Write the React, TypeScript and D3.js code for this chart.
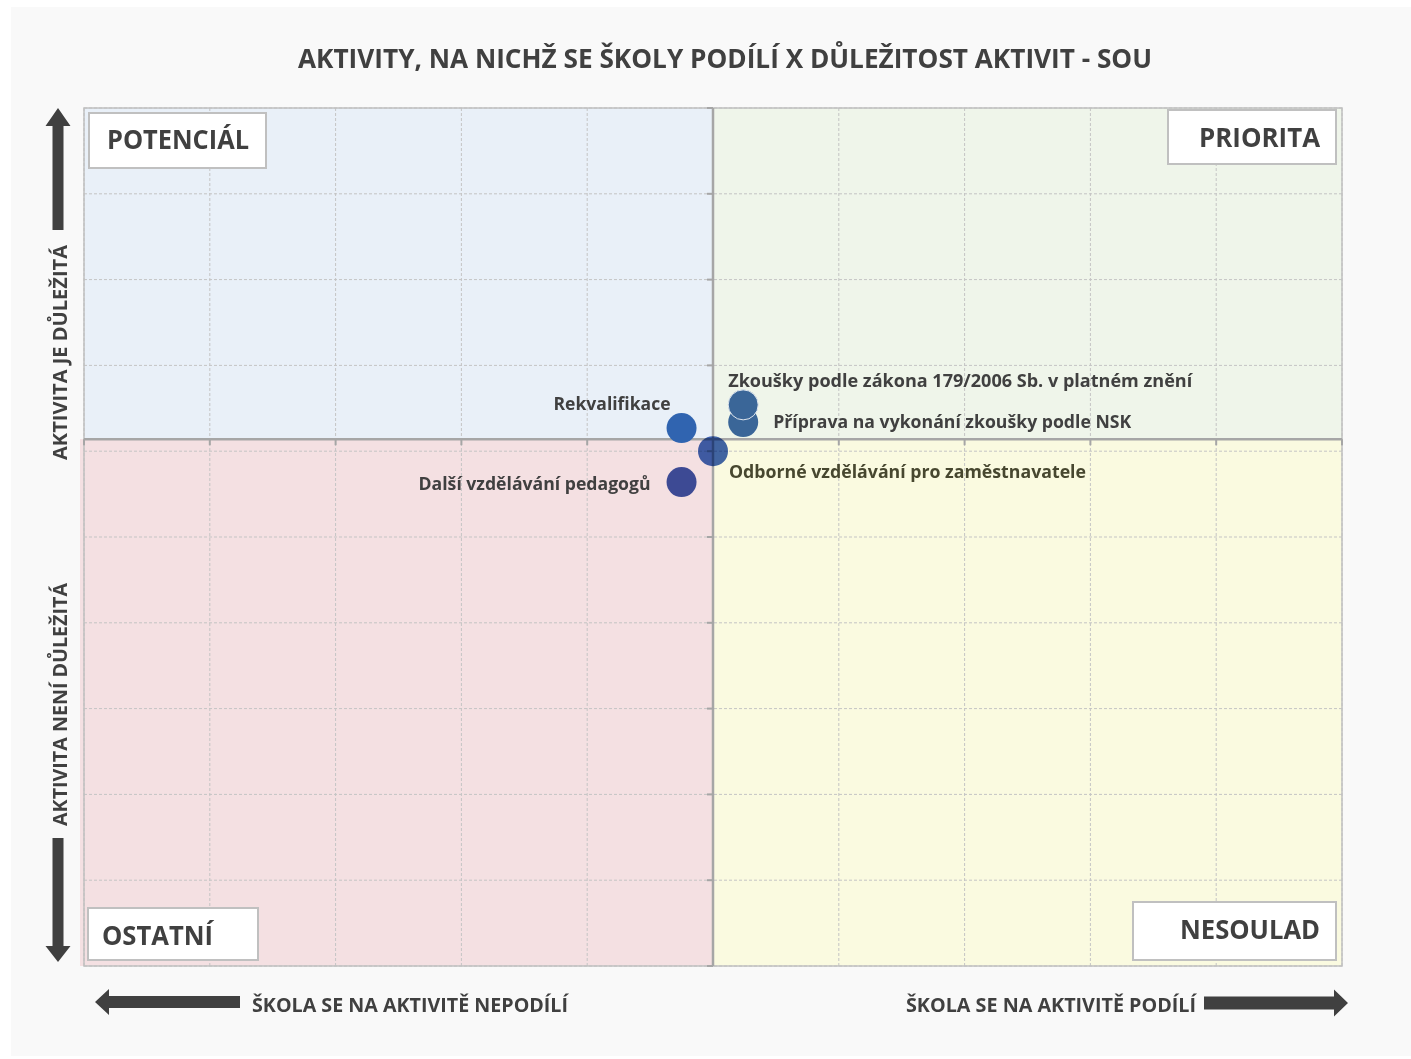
import React, { useEffect } from 'react'
import * as d3 from 'd3'

const W = 1411, H = 1059
const PLOT = { left: 84, right: 1342, top: 108, bottom: 966 }

const TITLE = 'AKTIVITY, NA NICHŽ SE ŠKOLY PODÍLÍ X DŮLEŽITOST AKTIVIT - SOU'

// data
const activities = [
  'Zkoušky podle zákona 179/2006 Sb. v platném znění',
  'Příprava na vykonání zkoušky podle NSK',
  'Rekvalifikace',
  'Odborné vzdělávání pro zaměstnavatele',
  'Další vzdělávání pedagogů',
]
const participation = [0.24, 0.24, -0.25, 0, -0.25]
const importance = [1.54, 1.34, 1.27, 1.0, 0.64]
const xTicks = [-5, -4, -3, -2, -1, 0, 1, 2, 3, 4, 5]
const yTicks = [-5, -4, -3, -2, -1, 0, 1, 2, 3, 4, 5]
const X_CROSS = 0
const Y_CROSS = 1.14
const quadrants = ['POTENCIÁL', 'PRIORITA', 'OSTATNÍ', 'NESOULAD']
const yLabels = ['AKTIVITA JE DŮLEŽITÁ', 'AKTIVITA NENÍ DŮLEŽITÁ']
const xLabels = ['ŠKOLA SE NA AKTIVITĚ NEPODÍLÍ', 'ŠKOLA SE NA AKTIVITĚ PODÍLÍ']

// styling per point
const markerFill = ['#3a6698', '#3a6698', '#3064b0', '#4266b6', '#3d4a94']
const labelPos = [
  { dx: -15, dy: -18, anchor: 'start', color: '#404040' },
  { dx: 30, dy: 6, anchor: 'start', color: '#404040' },
  { dx: -11, dy: -18, anchor: 'end', color: '#404040' },
  { dx: 16, dy: 27, anchor: 'start', color: '#47472f' },
  { dx: -31, dy: 8, anchor: 'end', color: '#404040' },
]
const labelLen = [464, 358, 117, 357, 232]

const FONT = '"Open Sans", Lato, sans-serif'
const INK = '#404040'

export default function App() {
  useEffect(() => {
    document.body.style.margin = '0'
  }, [])

  const x = d3.scaleLinear().domain([-5, 5]).range([PLOT.left, PLOT.right])
  const y = d3.scaleLinear().domain([-5, 5]).range([PLOT.bottom, PLOT.top])
  const cx = x(X_CROSS), cy = y(Y_CROSS)

  const arrow = (x0: number, y0: number, x1: number, y1: number, shaft: number, head: number, headLen: number) => {
    const ang = Math.atan2(y1 - y0, x1 - x0)
    const len = Math.hypot(x1 - x0, y1 - y0)
    const s = shaft / 2, h = head / 2
    const pts: [number, number][] = [
      [0, -s], [len - headLen, -s], [len - headLen, -h], [len, 0],
      [len - headLen, h], [len - headLen, s], [0, s],
    ]
    return (
      <path
        d={d3.line()(pts) + 'Z'}
        transform={`translate(${x0},${y0}) rotate(${(ang * 180) / Math.PI})`}
        fill={INK}
      />
    )
  }

  return (
    <svg width={W} height={H} style={{ display: 'block' }} fontFamily={FONT}>
      <rect width={W} height={H} fill="#ffffff" />
      <rect x={11} y={7} width={W - 11} height={1049} fill="#f9f9f9" />

      <text x={725} y={68} textAnchor="middle" fontSize={27} fontWeight={700} fill={INK}
        textLength={854} lengthAdjust="spacingAndGlyphs">{TITLE}</text>

      {/* quadrant backgrounds */}
      <rect x={PLOT.left} y={PLOT.top} width={cx - PLOT.left} height={cy - PLOT.top} fill="#e9f0f8" />
      <rect x={cx} y={PLOT.top} width={PLOT.right - cx} height={cy - PLOT.top} fill="#eff5ea" />
      <rect x={PLOT.left - 4} y={cy} width={cx - PLOT.left + 4} height={PLOT.bottom - cy} fill="#f4e0e2" />
      <rect x={cx} y={cy} width={PLOT.right - cx} height={PLOT.bottom - cy} fill="#fafae0" />

      {/* grid */}
      {xTicks.map((t) => (
        <line key={'gx' + t} x1={x(t)} x2={x(t)} y1={PLOT.top} y2={PLOT.bottom}
          stroke="#c4c4c4" strokeWidth={1} strokeDasharray="3,2" />
      ))}
      {yTicks.map((t) => (
        <line key={'gy' + t} x1={PLOT.left} x2={PLOT.right} y1={y(t)} y2={y(t)}
          stroke="#c4c4c4" strokeWidth={1} strokeDasharray="3,2" />
      ))}
      <rect x={PLOT.left} y={PLOT.top} width={PLOT.right - PLOT.left} height={PLOT.bottom - PLOT.top}
        fill="none" stroke="#c0c0c0" strokeWidth={1.5} />

      {/* axes through the crossing point */}
      <line x1={PLOT.left} x2={PLOT.right} y1={cy} y2={cy} stroke="#a6a6a6" strokeWidth={2.5} />
      <line x1={cx} x2={cx} y1={PLOT.top} y2={PLOT.bottom} stroke="#a6a6a6" strokeWidth={2.5} />
      {xTicks.map((t) => (
        <line key={'tx' + t} x1={x(t)} x2={x(t)} y1={cy} y2={cy + 6} stroke="#a6a6a6" strokeWidth={2} />
      ))}
      {yTicks.map((t) => (
        <line key={'ty' + t} x1={cx - 6} x2={cx} y1={y(t)} y2={y(t)} stroke="#a6a6a6" strokeWidth={2} />
      ))}

      {/* quadrant name boxes */}
      <g fontSize={26} fontWeight={700} fill={INK}>
        <rect x={89} y={113} width={177} height={55} fill="#fff" stroke="#c0c0c0" strokeWidth={2} />
        <text x={107} y={149} textLength={142} lengthAdjust="spacingAndGlyphs">{quadrants[0]}</text>
        <rect x={1168} y={110} width={168} height={54} fill="#fff" stroke="#c0c0c0" strokeWidth={2} />
        <text x={1320} y={147} textAnchor="end" textLength={121} lengthAdjust="spacingAndGlyphs">{quadrants[1]}</text>
        <rect x={88} y={908} width={170} height={52} fill="#fff" stroke="#c0c0c0" strokeWidth={2} />
        <text x={102} y={945} textLength={111} lengthAdjust="spacingAndGlyphs">{quadrants[2]}</text>
        <rect x={1133} y={902} width={203} height={58} fill="#fff" stroke="#c0c0c0" strokeWidth={2} />
        <text x={1320} y={939} textAnchor="end" textLength={140} lengthAdjust="spacingAndGlyphs">{quadrants[3]}</text>
      </g>

      {/* points */}
      {activities.map((a, i) => (
        <circle key={'c' + i} cx={x(participation[i])} cy={y(importance[i])} r={15}
          fill={markerFill[i]} stroke={i === 0 ? '#dfe6ee' : 'none'} strokeWidth={1}
          style={i === 3 ? { mixBlendMode: 'multiply' } : undefined} />
      )).reverse()}
      <g fontSize={18} fontWeight={700}>
        {activities.map((a, i) => (
          <text key={'l' + i} x={x(participation[i]) + labelPos[i].dx} y={y(importance[i]) + labelPos[i].dy}
            textAnchor={labelPos[i].anchor} fill={labelPos[i].color}
            textLength={labelLen[i]} lengthAdjust="spacingAndGlyphs">{a}</text>
        ))}
      </g>

      {/* axis direction arrows and labels */}
      {arrow(58, 230, 58, 108, 11, 25, 18)}
      {arrow(58, 838, 58, 962, 11, 25, 16)}
      {arrow(240, 1002, 95, 1002, 12, 26, 14)}
      {arrow(1204, 1003, 1348, 1003, 13, 27, 14)}
      <g fontSize={19} fontWeight={700} fill={INK}>
        <text transform="translate(67,460) rotate(-90)" textLength={215} lengthAdjust="spacingAndGlyphs">{yLabels[0]}</text>
        <text transform="translate(67,826) rotate(-90)" textLength={243} lengthAdjust="spacingAndGlyphs">{yLabels[1]}</text>
        <text x={252} y={1012} textLength={316} lengthAdjust="spacingAndGlyphs">{xLabels[0]}</text>
        <text x={1196} y={1012} textAnchor="end" textLength={290} lengthAdjust="spacingAndGlyphs">{xLabels[1]}</text>
      </g>
    </svg>
  )
}
